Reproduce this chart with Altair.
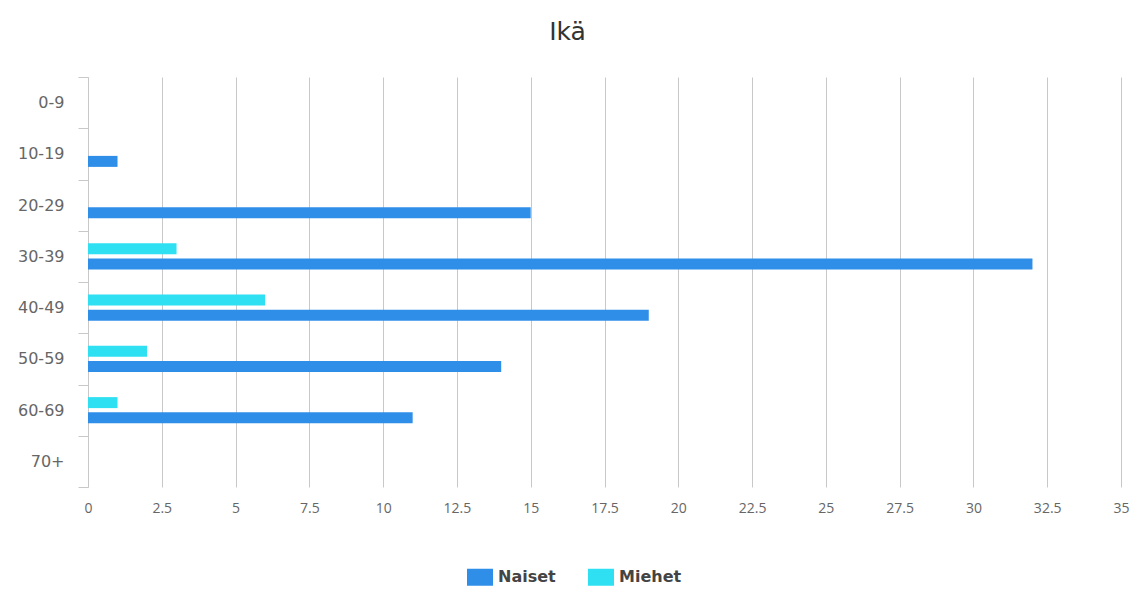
import altair as alt
import pandas as pd

categories = ["0-9", "10-19", "20-29", "30-39", "40-49", "50-59", "60-69", "70+"]
naiset = [0, 1, 15, 32, 19, 14, 11, 0]
miehet = [0, 0, 0, 3, 6, 2, 1, 0]
series = ["Naiset", "Miehet"]
colors = ["#2f8fe8", "#2fe0f2"]
x_ticks = [0, 2.5, 5, 7.5, 10, 12.5, 15, 17.5, 20, 22.5, 25, 27.5, 30, 32.5, 35]

rows = []
for c, n, m in zip(categories, naiset, miehet):
    rows.append({"ika": c, "sarja": "Naiset", "arvo": n})
    rows.append({"ika": c, "sarja": "Miehet", "arvo": m})
df = pd.DataFrame(rows)

FONT = "DejaVu Sans"

chart = alt.Chart(df).mark_bar(size=11).encode(
    x=alt.X("arvo:Q",
            scale=alt.Scale(domain=[0, 35], nice=False, zero=True),
            axis=alt.Axis(values=x_ticks, format=".1~f", title=None, grid=True,
                          gridColor="#c8c8c8", domain=False, ticks=False,
                          labelPadding=14, labelFontSize=14, labelColor="#666666",
                          labelFont="Open Sans", labelFlush=False)),
    y=alt.Y("ika:N", sort=categories,
            scale=alt.Scale(paddingInner=0, paddingOuter=0),
            axis=alt.Axis(title=None, domain=True, domainColor="#c8c8c8", ticks=True,
                          tickColor="#c8c8c8", tickSize=10, tickBand="extent",
                          labelPadding=14, labelFontSize=16, labelColor="#666666",
                          labelFont=FONT, grid=False)),
    yOffset=alt.YOffset("sarja:N", sort=["Miehet", "Naiset"],
                        scale=alt.Scale(paddingInner=0.23, paddingOuter=0.82)),
    color=alt.Color("sarja:N",
                    scale=alt.Scale(domain=series, range=colors),
                    legend=alt.Legend(title=None, orient="none", direction="horizontal",
                                      legendX=382, legendY=490,
                                      symbolType="M-1.3,-0.85H1.3V0.85H-1.3Z",
                                      symbolSize=400,
                                      symbolStrokeWidth=0, labelFontSize=16,
                                      labelFontWeight="bold",
                                      labelColor="#444444", labelFont=FONT,
                                      columnPadding=32, symbolOffset=0,
                                      labelOffset=8)),
).properties(
    width=1033,
    height=410,
    title=alt.TitleParams("Ikä", fontSize=25, color="#333333", font=FONT,
                          fontWeight="normal", anchor="middle", offset=24, dx=-37),
    autosize=alt.AutoSizeParams(type="none"),
    padding={"left": 80, "top": 69, "right": 15, "bottom": 110},
).configure_view(stroke=None)

chart.save("out.html", embed_options={"renderer": "svg", "actions": False})
